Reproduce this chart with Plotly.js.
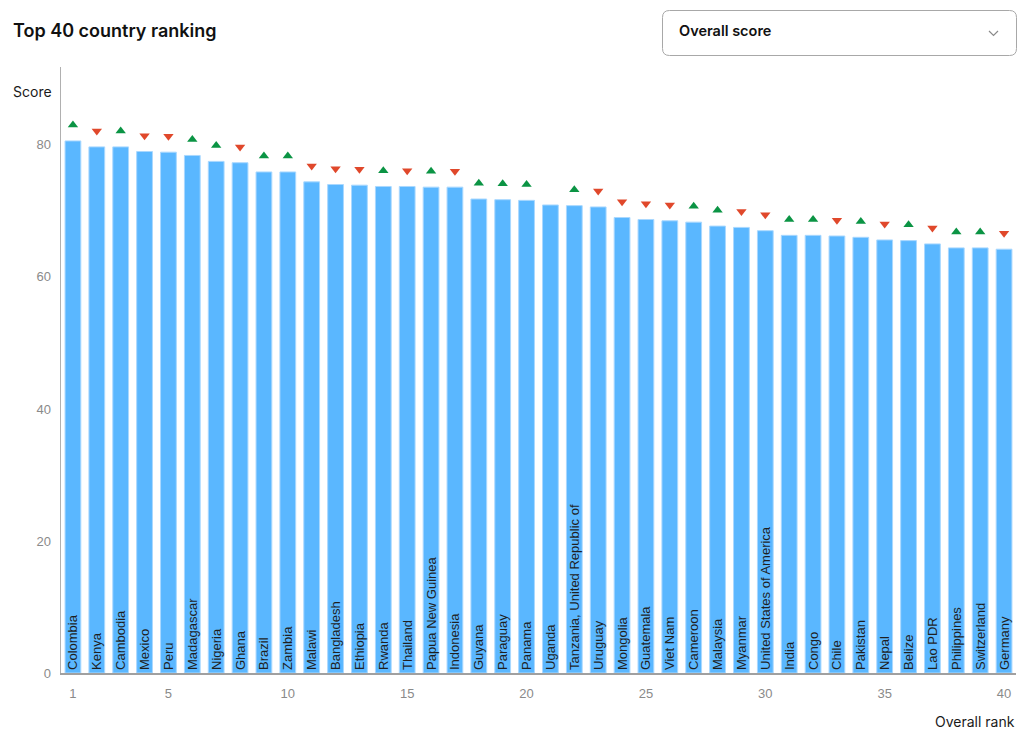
<!DOCTYPE html>
<html>
<head>
<meta charset="utf-8">
<script src="https://cdn.plot.ly/plotly-3.0.1.min.js"></script>
<style>
  html, body { margin: 0; padding: 0; background: #ffffff; }
  #chart { width: 1024px; height: 738px; }
</style>
</head>
<body>
<div id="chart"></div>
<script>
// ---- Data ----
const ranks = [1,2,3,4,5,6,7,8,9,10,11,12,13,14,15,16,17,18,19,20,21,22,23,24,25,26,27,28,29,30,31,32,33,34,35,36,37,38,39,40];
const countries = ["Colombia","Kenya","Cambodia","Mexico","Peru","Madagascar","Nigeria","Ghana","Brazil","Zambia",
  "Malawi","Bangladesh","Ethiopia","Rwanda","Thailand","Papua New Guinea","Indonesia","Guyana","Paraguay","Panama",
  "Uganda","Tanzania, United Republic of","Uruguay","Mongolia","Guatemala","Viet Nam","Cameroon","Malaysia","Myanmar","United States of America",
  "India","Congo","Chile","Pakistan","Nepal","Belize","Lao PDR","Philippines","Switzerland","Germany"];
const scores = [80.6,79.7,79.7,79.0,78.9,78.4,77.5,77.3,75.9,75.9,
  74.4,74.0,73.9,73.7,73.7,73.6,73.6,71.8,71.7,71.6,
  70.9,70.8,70.6,69.0,68.7,68.5,68.3,67.7,67.5,67.0,
  66.3,66.3,66.2,66.0,65.6,65.5,65.0,64.4,64.4,64.2];
// 1 = moved up, -1 = moved down, 0 = no change
const movement = [1,-1,1,-1,-1,1,1,-1,1,1,
  -1,-1,-1,1,-1,1,-1,1,1,1,
  0,1,-1,-1,-1,-1,1,1,-1,-1,
  1,1,-1,1,-1,1,-1,1,1,-1];
const xTicks = [1,5,10,15,20,25,30,35,40];
const yTicks = [0,20,40,60,80];

// ---- Layout geometry (pixels) ----
const W = 1024, H = 738;
const M = {l: 61, r: 8, t: 67, b: 65};
const PW = W - M.l - M.r, PH = H - M.t - M.b;
const px = x => (x - M.l) / PW;
const py = y => (H - M.b - y) / PH;

// marker offset above bars (score units)
const markerOffset = 2.4;
const mx = [], my = [], msym = [], mcol = [];
for (let i = 0; i < ranks.length; i++) {
  if (movement[i] === 0) continue;
  mx.push(ranks[i]);
  my.push(scores[i] + markerOffset);
  msym.push(movement[i] > 0 ? 'triangle-up' : 'triangle-down');
  mcol.push(movement[i] > 0 ? '#0b9444' : '#e0482b');
}

const bars = {
  type: 'bar',
  x: ranks,
  y: scores,
  text: countries,
  textposition: 'inside',
  insidetextanchor: 'start',
  textangle: -90,
  insidetextfont: {family: 'Liberation Sans, Arial, sans-serif', size: 13, color: '#1f1f1f'},
  constraintext: 'none',
  cliponaxis: false,
  width: 0.66,
  marker: {color: '#5ab7ff', line: {color: '#a9d8ff', width: 1}},
  hoverinfo: 'skip'
};

const marks = {
  type: 'scatter',
  mode: 'markers',
  x: mx,
  y: my,
  marker: {symbol: msym, color: mcol, size: 9, line: {width: 0}},
  hoverinfo: 'skip',
  cliponaxis: false
};

// rounded rectangle path in paper coords
function roundRect(x0, y0, x1, y1, r) {
  const X0 = px(x0), X1 = px(x1), Y0 = py(y0), Y1 = py(y1);
  const rx = r / PW, ry = r / PH;
  return `M ${X0 + rx},${Y0} L ${X1 - rx},${Y0} Q ${X1},${Y0} ${X1},${Y0 - ry} ` +
         `L ${X1},${Y1 + ry} Q ${X1},${Y1} ${X1 - rx},${Y1} L ${X0 + rx},${Y1} ` +
         `Q ${X0},${Y1} ${X0},${Y1 + ry} L ${X0},${Y0 - ry} Q ${X0},${Y0} ${X0 + rx},${Y0} Z`;
}

const layout = {
  width: W, height: H,
  margin: M,
  paper_bgcolor: '#ffffff',
  plot_bgcolor: '#ffffff',
  showlegend: false,
  bargap: 0.34,
  xaxis: {
    range: [0.5, 40.5],
    tickvals: xTicks,
    ticktext: xTicks.map(String),
    showgrid: false, zeroline: false,
    showline: true, linecolor: '#a0a0a0', linewidth: 1.5,
    ticks: '', ticklabelstandoff: 8,
    tickfont: {family: 'Liberation Sans, Arial, sans-serif', size: 13, color: '#8a8a8a'},
    fixedrange: true
  },
  yaxis: {
    range: [0, 91.8],
    tickvals: yTicks,
    ticktext: yTicks.map(String),
    showgrid: false, zeroline: false,
    showline: true, linecolor: '#b0b0b0', linewidth: 1.5,
    ticks: '', ticklabelstandoff: 6,
    tickfont: {family: 'Liberation Sans, Arial, sans-serif', size: 13, color: '#8a8a8a'},
    fixedrange: true
  },
  shapes: [
    {type: 'path', xref: 'paper', yref: 'paper', path: roundRect(662.5, 10.5, 1016.5, 55.5, 7),
     line: {color: '#a8a8a8', width: 1}, fillcolor: '#ffffff', layer: 'above'},
    {type: 'path', xref: 'paper', yref: 'paper',
     path: `M ${px(989)},${py(31)} L ${px(993.5)},${py(35.5)} L ${px(998)},${py(31)}`,
     line: {color: '#8a8a8a', width: 1.2}, layer: 'above'}
  ],
  annotations: [
    {text: 'Top 40 country ranking', xref: 'paper', yref: 'paper', x: px(10.5), y: py(31),
     xanchor: 'left', yanchor: 'middle', showarrow: false,
     font: {family: 'Inter, Noto Sans, sans-serif', size: 18, color: '#111111', weight: 600}},
    {text: 'Overall score', xref: 'paper', yref: 'paper', x: px(676.5), y: py(31),
     xanchor: 'left', yanchor: 'middle', showarrow: false,
     font: {family: 'Inter, Noto Sans, sans-serif', size: 14.5, color: '#111111', weight: 600}},
    {text: 'Score', xref: 'paper', yref: 'paper', x: px(10.5), y: py(91),
     xanchor: 'left', yanchor: 'middle', showarrow: false,
     font: {family: 'Inter, Noto Sans, sans-serif', size: 14, color: '#1a1a1a'}},
    {text: 'Overall rank', xref: 'paper', yref: 'paper', x: px(1017), y: py(721),
     xanchor: 'right', yanchor: 'middle', showarrow: false,
     font: {family: 'Inter, Noto Sans, sans-serif', size: 14, color: '#1a1a1a'}}
  ]
};

Plotly.newPlot('chart', [bars, marks], layout, {displayModeBar: false, staticPlot: true});
</script>
</body>
</html>
